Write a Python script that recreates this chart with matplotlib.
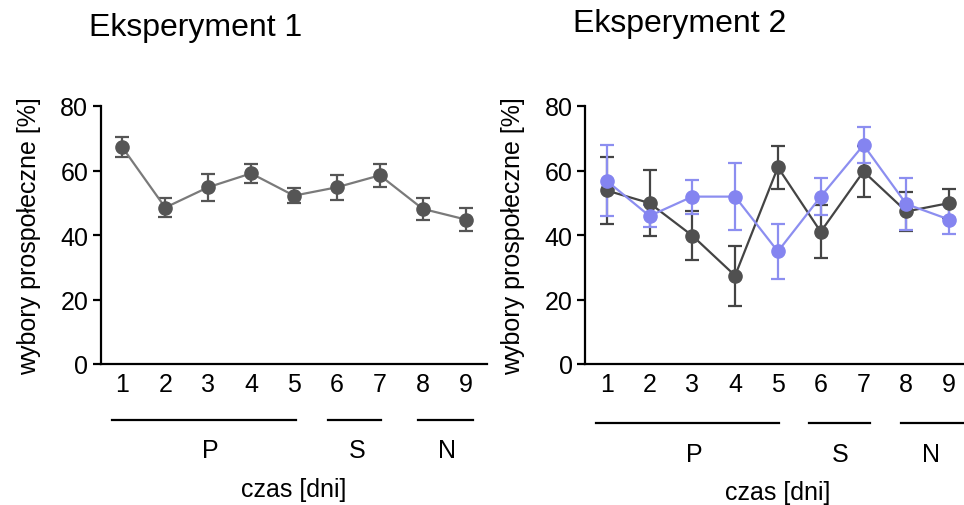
import matplotlib
matplotlib.use("Agg")
import matplotlib.pyplot as plt

plt.rcParams['font.family'] = ['Liberation Sans', 'DejaVu Sans']

days = [1, 2, 3, 4, 5, 6, 7, 8, 9]
day_labels = ["1", "2", "3", "4", "5", "6", "7", "8", "9"]

# Eksperyment 1
exp1_mean = [67.2, 48.5, 54.8, 59.1, 52.2, 54.8, 58.5, 48.1, 44.8]
exp1_err = [3.1, 3.0, 4.2, 3.0, 2.3, 3.9, 3.6, 3.3, 3.5]

# Eksperyment 2 - dark series
exp2_dark_mean = [53.8, 49.9, 39.8, 27.4, 61.0, 41.0, 59.7, 47.3, 49.9]
exp2_dark_err = [10.5, 10.2, 7.7, 9.3, 6.7, 8.2, 7.9, 6.0, 4.5]

# Eksperyment 2 - blue series
exp2_blue_mean = [56.8, 45.9, 51.9, 51.9, 34.9, 51.9, 67.9, 49.6, 44.8]
exp2_blue_err = [11.0, 3.5, 5.3, 10.3, 8.6, 5.8, 5.6, 8.0, 4.4]

y_ticks = [0, 20, 40, 60, 80]

# phase groups: (label, span start, span end, label position)
groups_left = [("P", 0.76, 5.05, 3.05), ("S", 5.8, 7.03, 6.48), ("N", 7.9, 9.16, 8.57)]
groups_right = [("P", 0.75, 5.03, 3.04), ("S", 5.73, 7.15, 6.45), ("N", 7.88, 9.4, 8.58)]

fig = plt.figure(figsize=(9.64, 5.06), dpi=100)
ax1 = fig.add_axes([100.85 / 964, 1 - 365 / 506, 386.3 / 964, 258 / 506])
ax2 = fig.add_axes([585.3 / 964, 1 - 365 / 506, 385.2 / 964, 258 / 506])

FS = 18

def style(ax):
    ax.set_xlim(0.5, 9.5)
    ax.set_ylim(0, 80)
    ax.spines['top'].set_visible(False)
    ax.spines['right'].set_visible(False)
    for s in ['left', 'bottom']:
        ax.spines[s].set_linewidth(1.6)
        ax.spines[s].set_color('black')
    ax.set_yticks(y_ticks)
    ax.set_xticks(days)
    ax.set_xticklabels(day_labels)
    ax.tick_params(axis='y', length=6, width=1.6, pad=3, labelsize=FS)
    ax.tick_params(axis='x', length=0, pad=5.5, labelsize=FS)
    ax.set_ylabel("wybory prospołeczne [%]", fontsize=FS, labelpad=14)
    ax.patch.set_alpha(0)

style(ax1)
style(ax2)

ax1.errorbar(days, exp1_mean, yerr=exp1_err, color='#7a7a7a', lw=1.6,
             marker='o', ms=9.5, mfc='#555555', mec='#555555',
             ecolor='#555555', elinewidth=1.6, capsize=5, capthick=1.6, clip_on=False)

ax2.errorbar(days, exp2_dark_mean, yerr=exp2_dark_err, color='#444444', lw=1.6,
             marker='o', ms=9.5, mfc='#505050', mec='#505050',
             ecolor='#444444', elinewidth=1.6, capsize=5, capthick=1.6, clip_on=False)
ax2.errorbar(days, exp2_blue_mean, yerr=exp2_blue_err, color='#8c8ef0', lw=1.6,
             marker='o', ms=9.5, mfc='#8484f0', mec='#8484f0',
             ecolor='#8c8ef0', elinewidth=1.6, capsize=5, capthick=1.6, clip_on=False)

def groups(ax, grp, yline):
    trans = ax.get_xaxis_transform()
    for lab, a, b, c in grp:
        ax.plot([a, b], [yline, yline], transform=trans, color='black', lw=1.6, clip_on=False)
        ax.text(c, yline - 0.118, lab, transform=trans, ha='center', va='center', fontsize=FS)
    ax.text(5, yline - 0.268, "czas [dni]", transform=trans, ha='center', va='center', fontsize=FS)

groups(ax1, groups_left, -0.217)
groups(ax2, groups_right, -0.229)

fig.text(196 / 964, 1 - 28 / 506, "Eksperyment 1", ha='center', va='center', fontsize=23)
fig.text(680 / 964, 1 - 24 / 506, "Eksperyment 2", ha='center', va='center', fontsize=23)

fig.savefig("out.png", dpi=100)
